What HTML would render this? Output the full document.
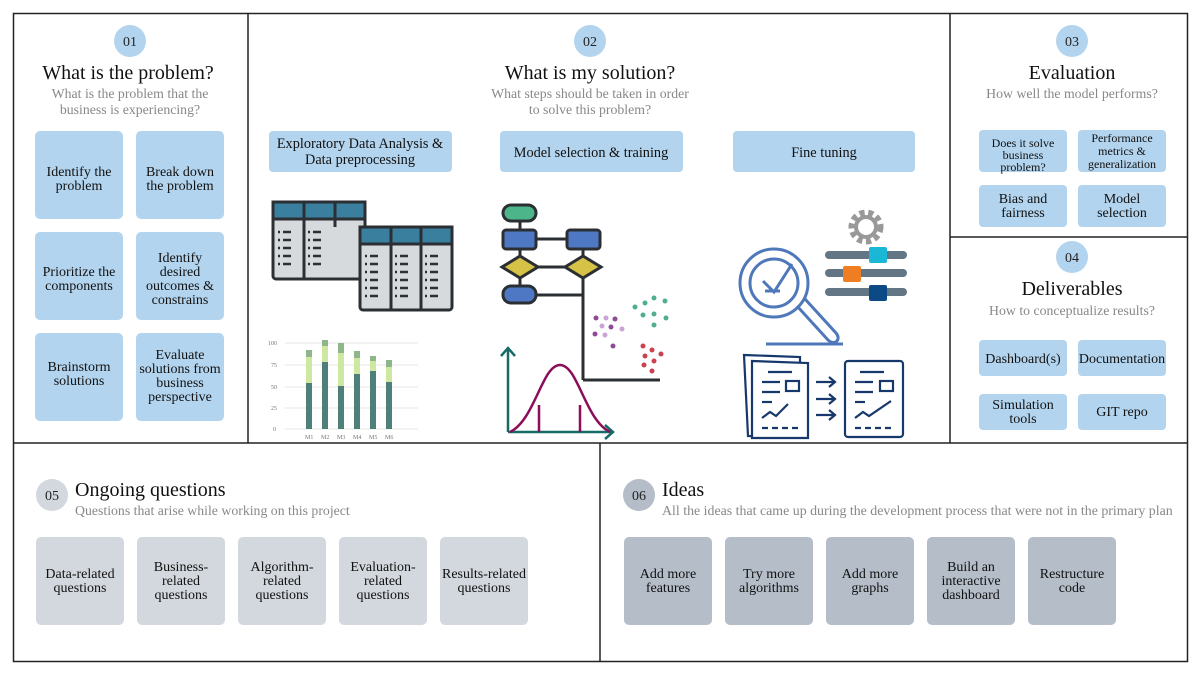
<!DOCTYPE html>
<html><head><meta charset="utf-8"><style>
html,body{margin:0;padding:0;background:#fff;}
svg{display:block;}
text{font-family:"Liberation Serif",serif;}
</style></head><body>
<svg width="1200" height="675" viewBox="0 0 1200 675" xmlns="http://www.w3.org/2000/svg">
<rect x="0" y="0" width="1200" height="675" fill="#fff"/>
<g stroke="#222" stroke-width="1.5" fill="none">
<rect x="13.5" y="13.5" width="1174" height="648"/>
<line x1="248" y1="13" x2="248" y2="443"/>
<line x1="950" y1="13" x2="950" y2="443"/>
<line x1="13" y1="443" x2="1188" y2="443"/>
<line x1="950" y1="237" x2="1188" y2="237"/>
<line x1="600" y1="443" x2="600" y2="662"/>
</g>
<g font-size="14" text-anchor="middle" fill="#222">
<circle cx="130" cy="41" r="16" fill="#b3d4ee"/><text x="130" y="46">01</text>
<circle cx="590" cy="41" r="16" fill="#b3d4ee"/><text x="590" y="46">02</text>
<circle cx="1072" cy="41" r="16" fill="#b3d4ee"/><text x="1072" y="46">03</text>
<circle cx="1072" cy="257" r="16" fill="#b3d4ee"/><text x="1072" y="262">04</text>
<circle cx="52" cy="495" r="16" fill="#d3d8de"/><text x="52" y="500">05</text>
<circle cx="639" cy="495" r="16" fill="#b4bdc8"/><text x="639" y="500">06</text>
</g>
<g text-anchor="middle" fill="#111" font-size="20">
<text x="128" y="79">What is the problem?</text>
<text x="590" y="79">What is my solution?</text>
<text x="1072" y="79">Evaluation</text>
<text x="1072" y="295">Deliverables</text>
</g>
<g text-anchor="middle" fill="#888" font-size="13.8">
<text x="130" y="98">What is the problem that the</text>
<text x="130" y="114">business is experiencing?</text>
<text x="590" y="98">What steps should be taken in order</text>
<text x="590" y="114">to solve this problem?</text>
<text x="1072" y="98">How well the model performs?</text>
<text x="1072" y="315">How to conceptualize results?</text>
</g>
<text x="75" y="496" font-size="20" fill="#111">Ongoing questions</text>
<text x="75" y="515" font-size="13.8" fill="#888">Questions that arise while working on this project</text>
<text x="662" y="496" font-size="20" fill="#111">Ideas</text>
<text x="662" y="515" font-size="13.9" fill="#888">All the ideas that came up during the development process that were not in the primary plan</text>

<g fill="#b3d4ee">
<rect x="35" y="131" width="88" height="88" rx="5"/><rect x="136" y="131" width="88" height="88" rx="5"/>
<rect x="35" y="232" width="88" height="88" rx="5"/><rect x="136" y="232" width="88" height="88" rx="5"/>
<rect x="35" y="333" width="88" height="88" rx="5"/><rect x="136" y="333" width="88" height="88" rx="5"/>
<rect x="269" y="131" width="183" height="41" rx="4"/><rect x="500" y="131" width="183" height="41" rx="4"/><rect x="733" y="131" width="182" height="41" rx="4"/>
<rect x="979" y="130" width="88" height="42" rx="4"/><rect x="1078" y="130" width="88" height="42" rx="4"/>
<rect x="979" y="185" width="88" height="42" rx="4"/><rect x="1078" y="185" width="88" height="42" rx="4"/>
<rect x="979" y="340" width="88" height="36" rx="4"/><rect x="1078" y="340" width="88" height="36" rx="4"/>
<rect x="979" y="394" width="88" height="36" rx="4"/><rect x="1078" y="394" width="88" height="36" rx="4"/>
</g>
<g fill="#d3d8de">
<rect x="36" y="537" width="88" height="88" rx="5"/><rect x="137" y="537" width="88" height="88" rx="5"/>
<rect x="238" y="537" width="88" height="88" rx="5"/><rect x="339" y="537" width="88" height="88" rx="5"/>
<rect x="440" y="537" width="88" height="88" rx="5"/>
</g>
<g fill="#b4bdc8">
<rect x="624" y="537" width="88" height="88" rx="5"/><rect x="725" y="537" width="88" height="88" rx="5"/>
<rect x="826" y="537" width="88" height="88" rx="5"/><rect x="927" y="537" width="88" height="88" rx="5"/>
<rect x="1028" y="537" width="88" height="88" rx="5"/>
</g>
<g text-anchor="middle" fill="#111" font-size="14">
<text x="79" y="176">Identify the</text><text x="79" y="190">problem</text>
<text x="180" y="176">Break down</text><text x="180" y="190">the problem</text>
<text x="79" y="276">Prioritize the</text><text x="79" y="290">components</text>
<text x="180" y="262">Identify</text><text x="180" y="276">desired</text><text x="180" y="290">outcomes &amp;</text><text x="180" y="304">constrains</text>
<text x="79" y="371">Brainstorm</text><text x="79" y="385">solutions</text>
<text x="180" y="359">Evaluate</text><text x="180" y="373">solutions from</text><text x="180" y="387">business</text><text x="180" y="401">perspective</text>
<g font-size="14.3"><text x="360" y="148">Exploratory Data Analysis &amp;</text><text x="360" y="164">Data preprocessing</text>
<text x="591" y="157">Model selection &amp; training</text>
<text x="824" y="157">Fine tuning</text></g>
<g font-size="12"><text x="1023" y="147">Does it solve</text><text x="1023" y="159">business</text><text x="1023" y="171">problem?</text>
<text x="1122" y="142">Performance</text><text x="1122" y="155">metrics &amp;</text><text x="1122" y="168">generalization</text></g>
<text x="1023" y="203">Bias and</text><text x="1023" y="217">fairness</text>
<text x="1122" y="203">Model</text><text x="1122" y="217">selection</text>
<text x="1023" y="363">Dashboard(s)</text><text x="1122" y="363">Documentation</text>
<text x="1023" y="409">Simulation</text><text x="1023" y="423">tools</text>
<text x="1122" y="416">GIT repo</text>
<text x="80" y="578">Data-related</text><text x="80" y="592">questions</text>
<text x="181" y="571">Business-</text><text x="181" y="585">related</text><text x="181" y="599">questions</text>
<text x="282" y="571">Algorithm-</text><text x="282" y="585">related</text><text x="282" y="599">questions</text>
<text x="383" y="571">Evaluation-</text><text x="383" y="585">related</text><text x="383" y="599">questions</text>
<text x="484" y="578">Results-related</text><text x="484" y="592">questions</text>
<text x="668" y="578">Add more</text><text x="668" y="592">features</text>
<text x="769" y="578">Try more</text><text x="769" y="592">algorithms</text>
<text x="870" y="578">Add more</text><text x="870" y="592">graphs</text>
<text x="971" y="571">Build an</text><text x="971" y="585">interactive</text><text x="971" y="599">dashboard</text>
<text x="1072" y="578">Restructure</text><text x="1072" y="592">code</text>
</g>

<g stroke="#2b2f33" stroke-width="3">
<rect x="273" y="202" width="92" height="77" rx="3" fill="#d7dadd"/>
<rect x="273" y="202" width="92" height="17" fill="#3a7f9e"/>
<rect x="360" y="227" width="92" height="83" rx="3" fill="#d7dadd"/>
<rect x="360" y="227" width="92" height="17" fill="#3a7f9e"/>
<line x1="304" y1="202" x2="304" y2="279"/><line x1="335" y1="202" x2="335" y2="227"/>
<line x1="391" y1="227" x2="391" y2="310"/><line x1="421" y1="227" x2="421" y2="310"/>
</g>
<g stroke="#2b2f33" stroke-width="2.5" stroke-dasharray="2 3 8 30">
<line x1="278" y1="232" x2="300" y2="232"/><line x1="278" y1="240" x2="300" y2="240"/><line x1="278" y1="248" x2="300" y2="248"/><line x1="278" y1="256" x2="300" y2="256"/><line x1="278" y1="264" x2="300" y2="264"/>
<line x1="308" y1="232" x2="330" y2="232"/><line x1="308" y1="240" x2="330" y2="240"/><line x1="308" y1="248" x2="330" y2="248"/><line x1="308" y1="256" x2="330" y2="256"/><line x1="308" y1="264" x2="330" y2="264"/>
<line x1="365" y1="256" x2="387" y2="256"/><line x1="365" y1="264" x2="387" y2="264"/><line x1="365" y1="272" x2="387" y2="272"/><line x1="365" y1="280" x2="387" y2="280"/><line x1="365" y1="288" x2="387" y2="288"/><line x1="365" y1="296" x2="387" y2="296"/>
<line x1="395" y1="256" x2="417" y2="256"/><line x1="395" y1="264" x2="417" y2="264"/><line x1="395" y1="272" x2="417" y2="272"/><line x1="395" y1="280" x2="417" y2="280"/><line x1="395" y1="288" x2="417" y2="288"/><line x1="395" y1="296" x2="417" y2="296"/>
<line x1="425" y1="256" x2="447" y2="256"/><line x1="425" y1="264" x2="447" y2="264"/><line x1="425" y1="272" x2="447" y2="272"/><line x1="425" y1="280" x2="447" y2="280"/><line x1="425" y1="288" x2="447" y2="288"/><line x1="425" y1="296" x2="447" y2="296"/>
</g>
<g stroke="#e4e4e4" stroke-width="1"><line x1="285" y1="343" x2="418" y2="343"/><line x1="285" y1="365" x2="418" y2="365"/><line x1="285" y1="387" x2="418" y2="387"/><line x1="285" y1="408" x2="418" y2="408"/><line x1="285" y1="429" x2="418" y2="429"/></g>
<g font-size="6" fill="#777" font-family="Liberation Sans,sans-serif"><text x="268" y="345">100</text><text x="271" y="367">75</text><text x="271" y="389">50</text><text x="271" y="410">25</text><text x="273" y="431">0</text>
<text x="305" y="439">M1</text><text x="321" y="439">M2</text><text x="337" y="439">M3</text><text x="353" y="439">M4</text><text x="369" y="439">M5</text><text x="385" y="439">M6</text></g>
<g fill="#4e7f78"><rect x="306" y="383" width="6" height="46"/><rect x="322" y="362" width="6" height="67"/><rect x="338" y="386" width="6" height="43"/><rect x="354" y="374" width="6" height="55"/><rect x="370" y="371" width="6" height="58"/><rect x="386" y="382" width="6" height="47"/></g>
<g fill="#cfe8a0"><rect x="306" y="357" width="6" height="26"/><rect x="322" y="346" width="6" height="16"/><rect x="338" y="353" width="6" height="33"/><rect x="354" y="358" width="6" height="16"/><rect x="370" y="361" width="6" height="10"/><rect x="386" y="367" width="6" height="15"/></g>
<g fill="#8fb58a"><rect x="306" y="350" width="6" height="7"/><rect x="322" y="340" width="6" height="6"/><rect x="338" y="343" width="6" height="10"/><rect x="354" y="351" width="6" height="7"/><rect x="370" y="356" width="6" height="5"/><rect x="386" y="360" width="6" height="7"/></g>
<g stroke="#2b2f33" stroke-width="3">
<line x1="520" y1="215" x2="520" y2="298"/><line x1="533" y1="239" x2="583" y2="239"/><line x1="533" y1="267" x2="583" y2="267"/><line x1="535" y1="295" x2="582" y2="295"/><line x1="583" y1="239" x2="583" y2="380"/>
<rect x="503" y="205" width="33" height="16" rx="8" fill="#4cb68a"/>
<rect x="503" y="230" width="33" height="19" rx="3" fill="#4e78c4"/>
<rect x="567" y="230" width="33" height="19" rx="3" fill="#4e78c4"/>
<polygon points="502,267 520,256 538,267 520,278" fill="#d6c247"/>
<polygon points="565,267 583,256 601,267 583,278" fill="#d6c247"/>
<rect x="503" y="286" width="33" height="17" rx="8" fill="#4e78c4"/>
<line x1="583" y1="380" x2="660" y2="380"/>
</g>
<g fill="#8e4a95"><circle cx="596" cy="318" r="2.5"/><circle cx="606" cy="318" r="2.5" fill="#c9a4d4"/><circle cx="615" cy="319" r="2.5"/><circle cx="602" cy="326" r="2.5" fill="#c9a4d4"/><circle cx="611" cy="327" r="2.5"/><circle cx="622" cy="329" r="2.5" fill="#c9a4d4"/><circle cx="595" cy="334" r="2.5"/><circle cx="605" cy="335" r="2.5" fill="#c9a4d4"/><circle cx="613" cy="346" r="2.5"/></g>
<g fill="#4fae8e"><circle cx="635" cy="307" r="2.5"/><circle cx="645" cy="303" r="2.5"/><circle cx="654" cy="298" r="2.5"/><circle cx="643" cy="315" r="2.5"/><circle cx="654" cy="314" r="2.5"/><circle cx="665" cy="301" r="2.5"/><circle cx="654" cy="325" r="2.5"/><circle cx="666" cy="318" r="2.5"/></g>
<g fill="#cc4050"><circle cx="643" cy="346" r="2.5"/><circle cx="652" cy="350" r="2.5"/><circle cx="645" cy="356" r="2.5"/><circle cx="654" cy="361" r="2.5"/><circle cx="661" cy="354" r="2.5"/><circle cx="644" cy="365" r="2.5"/><circle cx="652" cy="371" r="2.5"/></g>
<g fill="none" stroke-width="2.5">
<path d="M508 432 L508 348 M501 356 L508 348 L515 356" stroke="#166b66"/>
<path d="M508 432 L612 432 M605 425 L613 432 L605 439" stroke="#166b66"/>
<path d="M510 432 C535 420 542 365 560 365 C578 365 585 420 610 432" stroke="#8a0e5a"/>
<line x1="539" y1="405" x2="539" y2="432" stroke="#8a0e5a"/><line x1="580" y1="405" x2="580" y2="432" stroke="#8a0e5a"/>
</g>
<circle cx="866" cy="227" r="14" fill="none" stroke="#999" stroke-width="7" stroke-dasharray="5 3.5"/>
<circle cx="866" cy="227" r="10" fill="none" stroke="#999" stroke-width="4"/>
<g stroke="#627685" stroke-width="8" stroke-linecap="round"><line x1="829" y1="255" x2="903" y2="255"/><line x1="829" y1="273" x2="903" y2="273"/><line x1="829" y1="292" x2="903" y2="292"/></g>
<rect x="869" y="247" width="18" height="16" rx="2" fill="#1ab8d6"/>
<rect x="843" y="266" width="18" height="16" rx="2" fill="#ef7e22"/>
<rect x="869" y="285" width="18" height="16" rx="2" fill="#0c4a86"/>
<g fill="none" stroke="#4f78bb" stroke-width="3">
<circle cx="774" cy="283" r="34"/><circle cx="774" cy="283" r="24"/>
<path d="M763 281 L774 292 L792 264"/><line x1="765" y1="291" x2="780" y2="291"/>
<path d="M797 306 L828 340 C834 346 842 340 836 333 L805 299"/>
<line x1="766" y1="344" x2="843" y2="344"/>
</g>
<g fill="none" stroke="#17386a" stroke-width="2.2">
<path d="M744 355 L800 357 L800 437 L748 436 Z" fill="#fff"/>
<path d="M752 361 L808 363 L808 438 L752 438 Z" fill="#fff"/>
<rect x="845" y="361" width="58" height="76" rx="3"/>
<line x1="768" y1="372" x2="792" y2="372"/><line x1="762" y1="382" x2="780" y2="382"/><rect x="786" y="381" width="13" height="10"/><line x1="762" y1="392" x2="780" y2="392"/><line x1="762" y1="402" x2="772" y2="402"/><path d="M762 418 L770 412 L776 416 L788 404"/><line x1="762" y1="428" x2="800" y2="428" stroke-dasharray="6 4"/>
<line x1="860" y1="372" x2="884" y2="372"/><line x1="855" y1="382" x2="873" y2="382"/><rect x="880" y="381" width="13" height="10"/><line x1="855" y1="392" x2="873" y2="392"/><line x1="855" y1="402" x2="865" y2="402"/><path d="M855 418 L863 412 L869 416 L891 401"/><line x1="855" y1="428" x2="893" y2="428" stroke-dasharray="6 4"/>
<path d="M816 382 L834 382 M829 377 L835 382 L829 387"/><path d="M816 399 L834 399 M829 394 L835 399 L829 404"/><path d="M816 415 L834 415 M829 410 L835 415 L829 420"/>
</g>
</svg>
</body></html>
